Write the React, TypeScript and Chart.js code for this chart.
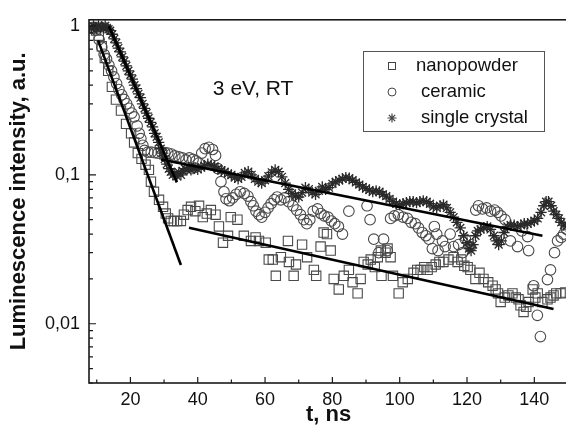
import React, { useEffect, useRef } from 'react';
import { Chart, registerables } from 'chart.js';

Chart.register(...registerables);

const FONT = '"Liberation Sans", Arial, Helvetica, sans-serif';

// ---- data ----
const seriesNames = ['nanopowder', 'ceramic', 'single crystal'];

const nanoT = [9.0, 9.8, 10.6, 11.5, 12.4, 13.4, 14.5, 15.7, 17.2, 18.7, 20.2, 21.1, 22.2, 23.3, 24.5, 25.5, 26.1, 27.0, 28.5, 29.7, 30.5, 31.2, 32.0, 32.9, 33.9, 35.0, 35.9, 37.0, 38.0, 39.3, 40.4, 41.5, 42.7, 43.9, 45.3, 46.3, 47.5, 49.0, 49.8, 51.8, 53.7, 55.8, 57.2, 58.2, 60.2, 61.1, 62.3, 63.2, 64.7, 66.8, 67.1, 68.5, 69.2, 71.0, 72.5, 74.5, 75.2, 76.5, 77.4, 78.4, 79.5, 80.4, 81.9, 83.4, 84.9, 86.0, 87.5, 88.4, 89.3, 90.5, 91.4, 92.6, 93.5, 94.4, 94.6, 95.8, 96.4, 97.3, 98.0, 99.7, 100.9, 102.4, 104.1, 105.2, 106.2, 107.3, 108.3, 109.5, 110.7, 111.8, 113.0, 114.5, 116.0, 117.2, 118.3, 119.2, 120.2, 121.0, 122.5, 123.7, 124.9, 126.3, 127.6, 128.5, 129.2, 130.0, 131.2, 132.3, 133.5, 134.5, 135.3, 135.9, 136.8, 137.6, 138.3, 139.5, 140.3, 141.0, 142.4, 143.9, 144.8, 145.7, 146.5, 147.8, 149.2];
const nanoV = [0.96, 0.93, 0.86, 0.73, 0.61, 0.5, 0.39, 0.32, 0.27, 0.22, 0.19, 0.165, 0.14, 0.128, 0.117, 0.108, 0.09, 0.077, 0.068, 0.061, 0.055, 0.051, 0.049, 0.049, 0.049, 0.049, 0.054, 0.058, 0.061, 0.057, 0.062, 0.052, 0.055, 0.058, 0.054, 0.045, 0.035, 0.039, 0.052, 0.05, 0.039, 0.036, 0.038, 0.036, 0.035, 0.027, 0.027, 0.021, 0.028, 0.036, 0.026, 0.021, 0.025, 0.034, 0.028, 0.023, 0.021, 0.033, 0.041, 0.04, 0.031, 0.02, 0.017, 0.021, 0.023, 0.019, 0.016, 0.02, 0.026, 0.025, 0.027, 0.024, 0.028, 0.031, 0.021, 0.03, 0.032, 0.028, 0.021, 0.016, 0.019, 0.02, 0.022, 0.023, 0.023, 0.024, 0.023, 0.024, 0.025, 0.026, 0.026, 0.027, 0.028, 0.026, 0.027, 0.0245, 0.024, 0.023, 0.02, 0.022, 0.02, 0.019, 0.018, 0.017, 0.016, 0.014, 0.015, 0.0155, 0.016, 0.015, 0.0146, 0.0133, 0.012, 0.013, 0.014, 0.017, 0.015, 0.016, 0.014, 0.0146, 0.015, 0.0155, 0.016, 0.016, 0.0162];

const ceramicT = [9.0, 9.8, 10.7, 11.5, 12.2, 12.9, 13.6, 14.4, 15.1, 15.9, 16.6, 17.4, 18.1, 18.9, 19.6, 20.4, 21.1, 22.0, 22.6, 23.1, 23.7, 24.2, 25.2, 26.2, 27.2, 28.2, 29.2, 30.2, 31.1, 32.2, 33.2, 34.4, 35.4, 36.5, 37.5, 38.6, 39.5, 40.3, 41.2, 42.2, 43.3, 44.4, 45.3, 46.0, 46.9, 47.8, 48.4, 49.4, 50.4, 51.4, 52.6, 53.8, 54.9, 55.8, 56.5, 57.3, 58.2, 59.0, 60.0, 60.9, 61.8, 62.7, 63.6, 64.7, 65.8, 67.0, 68.3, 69.4, 70.5, 71.5, 72.4, 73.3, 74.3, 75.6, 76.6, 77.6, 78.7, 79.7, 80.7, 81.8, 83.0, 84.9, 90.3, 91.2, 92.3, 93.8, 95.2, 96.3, 97.3, 98.4, 99.6, 101.0, 102.3, 103.4, 104.6, 105.6, 106.7, 107.8, 108.7, 109.7, 110.3, 111.0, 111.4, 112.7, 113.5, 115.0, 116.0, 117.5, 118.7, 119.5, 121.0, 122.6, 123.4, 124.6, 125.8, 127.0, 128.2, 129.1, 130.1, 131.3, 132.9, 135.0, 136.3, 138.0, 138.3, 139.8, 140.9, 141.8, 143.9, 144.8, 146.0, 146.9, 148.0, 148.7, 149.6];
const ceramicV = [0.97, 0.94, 0.81, 0.72, 0.645, 0.6, 0.546, 0.5, 0.455, 0.41, 0.374, 0.345, 0.321, 0.3, 0.28, 0.26, 0.245, 0.213, 0.19, 0.175, 0.158, 0.146, 0.142, 0.142, 0.141, 0.14, 0.142, 0.141, 0.14, 0.138, 0.134, 0.132, 0.13, 0.126, 0.13, 0.127, 0.124, 0.12, 0.14, 0.15, 0.153, 0.148, 0.135, 0.11, 0.09, 0.077, 0.069, 0.067, 0.07, 0.074, 0.077, 0.075, 0.072, 0.066, 0.062, 0.057, 0.054, 0.052, 0.056, 0.06, 0.064, 0.068, 0.071, 0.068, 0.07, 0.066, 0.062, 0.058, 0.054, 0.05, 0.047, 0.05, 0.057, 0.059, 0.055, 0.053, 0.052, 0.049, 0.047, 0.045, 0.04, 0.057, 0.062, 0.05, 0.037, 0.03, 0.037, 0.031, 0.051, 0.053, 0.054, 0.052, 0.051, 0.048, 0.047, 0.044, 0.041, 0.039, 0.037, 0.032, 0.045, 0.04, 0.031, 0.036, 0.033, 0.04, 0.033, 0.034, 0.03, 0.037, 0.033, 0.058, 0.062, 0.059, 0.06, 0.057, 0.058, 0.056, 0.053, 0.05, 0.036, 0.033, 0.042, 0.0385, 0.031, 0.018, 0.0114, 0.0082, 0.0198, 0.023, 0.03, 0.036, 0.038, 0.04, 0.043];

const crystalT = [8.5, 9.0, 9.5, 10.0, 10.5, 11.0, 11.5, 12.0, 12.5, 13.0, 13.5, 14.0, 14.6, 15.2, 15.8, 16.4, 17.0, 17.6, 18.2, 18.8, 19.4, 20.0, 20.6, 21.2, 21.8, 22.4, 23.0, 23.6, 24.2, 24.8, 25.4, 26.0, 26.6, 27.2, 27.8, 28.4, 29.0, 29.6, 30.2, 30.8, 31.4, 32.0, 32.6, 33.2, 33.8, 34.4, 35.0, 35.6, 36.2, 36.8, 37.4, 38.0, 38.6, 39.2, 40.0, 41.0, 42.0, 43.0, 44.0, 45.0, 46.0, 47.0, 48.0, 49.0, 50.0, 51.0, 52.0, 53.0, 54.0, 55.0, 56.0, 57.0, 58.0, 59.0, 60.0, 61.0, 62.0, 63.0, 64.0, 65.0, 66.0, 67.0, 68.0, 69.0, 70.0, 71.0, 72.0, 73.0, 74.0, 75.0, 76.0, 77.0, 78.0, 79.0, 80.0, 81.0, 82.0, 83.0, 84.0, 85.0, 86.0, 87.0, 88.0, 89.0, 90.0, 91.0, 92.0, 93.0, 94.0, 95.0, 96.0, 97.0, 98.0, 99.0, 100.0, 101.0, 102.0, 103.0, 104.0, 105.0, 106.0, 107.0, 108.0, 109.0, 110.0, 111.0, 112.0, 113.0, 114.0, 115.0, 116.0, 117.0, 118.0, 119.0, 120.0, 120.6, 121.2, 121.8, 122.5, 123.2, 124.0, 125.0, 126.0, 127.0, 128.0, 128.7, 129.4, 130.2, 131.0, 132.0, 133.0, 134.0, 135.0, 136.0, 137.0, 138.0, 139.0, 140.0, 141.0, 142.0, 142.8, 143.5, 144.2, 145.0, 145.7, 146.5, 147.3, 148.0, 148.8, 149.5];
const crystalV = [0.97, 1.0, 0.98, 0.96, 1.0, 0.98, 0.99, 0.97, 1.0, 0.97, 0.95, 0.93, 0.88, 0.82, 0.77, 0.71, 0.67, 0.62, 0.58, 0.54, 0.5, 0.47, 0.44, 0.4, 0.38, 0.35, 0.33, 0.3, 0.28, 0.26, 0.24, 0.225, 0.21, 0.19, 0.18, 0.165, 0.15, 0.14, 0.128, 0.118, 0.11, 0.105, 0.1, 0.102, 0.098, 0.104, 0.1, 0.106, 0.11, 0.108, 0.112, 0.108, 0.11, 0.112, 0.109, 0.112, 0.115, 0.118, 0.116, 0.114, 0.11, 0.107, 0.105, 0.102, 0.1, 0.096, 0.094, 0.097, 0.103, 0.105, 0.1, 0.094, 0.09, 0.088, 0.092, 0.098, 0.104, 0.108, 0.105, 0.097, 0.088, 0.08, 0.075, 0.072, 0.071, 0.076, 0.082, 0.08, 0.076, 0.074, 0.078, 0.083, 0.08, 0.082, 0.087, 0.09, 0.092, 0.094, 0.096, 0.095, 0.092, 0.089, 0.086, 0.083, 0.081, 0.079, 0.077, 0.078, 0.077, 0.074, 0.072, 0.069, 0.066, 0.064, 0.063, 0.064, 0.065, 0.066, 0.066, 0.065, 0.066, 0.067, 0.066, 0.064, 0.061, 0.06, 0.062, 0.063, 0.06, 0.056, 0.052, 0.048, 0.044, 0.039, 0.035, 0.032, 0.031, 0.034, 0.039, 0.042, 0.043, 0.044, 0.045, 0.043, 0.039, 0.036, 0.034, 0.036, 0.041, 0.045, 0.046, 0.046, 0.045, 0.046, 0.047, 0.047, 0.048, 0.049, 0.051, 0.056, 0.062, 0.066, 0.066, 0.062, 0.057, 0.054, 0.051, 0.048, 0.046, 0.045];

// fitted exponential lines (two end points each)
const fitCrystalFastT = [13.6, 33.8];
const fitCrystalFastV = [1.0, 0.089];
const fitNanoFastT = [10.4, 35.0];
const fitNanoFastV = [0.8, 0.0248];
const fitCrystalSlowT = [29.1, 142.4];
const fitCrystalSlowV = [0.127, 0.039];
const fitNanoSlowT = [37.4, 145.7];
const fitNanoSlowV = [0.0441, 0.01256];

const xTickValues = [20, 40, 60, 80, 100, 120, 140];
const yTickValues = [0.01, 0.1, 1];
const yTickLabels = ['0,01', '0,1', '1'];

const annotationText = '3 eV, RT';
const annotationT = 44.5;
const annotationV = 0.346;

const pts = (ts: number[], vs: number[]) => ts.map((t, i) => ({ x: t, y: vs[i] }));

function drawStar(ctx: CanvasRenderingContext2D, x: number, y: number, r: number) {
  ctx.beginPath();
  for (let k = 0; k < 4; k++) {
    const a = (k * Math.PI) / 4;
    ctx.moveTo(x - r * Math.cos(a), y - r * Math.sin(a));
    ctx.lineTo(x + r * Math.cos(a), y + r * Math.sin(a));
  }
  ctx.stroke();
}

const framePlugin = {
  id: 'frame',
  afterDraw(chart: any) {
    const { ctx, chartArea, scales } = chart;
    const { left, right, top, bottom } = chartArea;
    const xs = scales.x;
    const ys = scales.y;
    ctx.save();
    ctx.strokeStyle = '#1a1a1a';
    ctx.lineWidth = 1.6;
    ctx.strokeRect(left, top, right - left, bottom - top);

    ctx.lineWidth = 1.2;
    ctx.beginPath();
    for (let v = 10; v <= 150; v += 10) {
      const px = xs.getPixelForValue(v);
      const len = v % 20 === 0 ? 6 : 3.5;
      ctx.moveTo(px, bottom);
      ctx.lineTo(px, bottom - len);
    }
    for (const dec of [0.001, 0.01, 0.1, 1]) {
      for (let m = 1; m <= 9; m++) {
        const v = dec * m;
        if (v < ys.min || v > ys.max) continue;
        const py = ys.getPixelForValue(v);
        const len = m === 1 ? 7 : 4;
        ctx.moveTo(left, py);
        ctx.lineTo(left + len, py);
      }
    }
    ctx.stroke();

    // annotation
    ctx.fillStyle = '#111';
    ctx.font = '21px ' + FONT;
    ctx.textAlign = 'left';
    ctx.textBaseline = 'alphabetic';
    ctx.fillText(annotationText, xs.getPixelForValue(annotationT), ys.getPixelForValue(annotationV));

    // legend box
    const bx = 363, by = 51, bw = 181, bh = 80;
    ctx.strokeStyle = '#555';
    ctx.lineWidth = 1;
    ctx.strokeRect(bx + 0.5, by + 0.5, bw, bh);
    ctx.strokeStyle = '#444';
    ctx.lineWidth = 1;
    const sx = 392;
    ctx.strokeRect(sx - 3.5, 66 - 3.5, 7, 7);
    ctx.beginPath();
    ctx.arc(sx, 92, 4, 0, Math.PI * 2);
    ctx.stroke();
    ctx.lineWidth = 1.2;
    drawStar(ctx, sx, 118, 4.5);
    ctx.font = '18.5px ' + FONT;
    ctx.fillStyle = '#111';
    ctx.fillText(seriesNames[0], 416, 71);
    ctx.fillText(seriesNames[1], 421, 97);
    ctx.fillText(seriesNames[2], 421, 123);
    ctx.restore();
  },
};

export default function App() {
  const ref = useRef<HTMLCanvasElement | null>(null);
  useEffect(() => {
    if (!ref.current) return;
    const scatterBase = {
      showLine: false,
      backgroundColor: 'rgba(0,0,0,0)',
      borderWidth: 1,
      pointBorderWidth: 1.1,
      pointBackgroundColor: 'rgba(0,0,0,0)',
    };
    const lineBase = {
      showLine: true,
      borderColor: '#000',
      borderWidth: 2.6,
      pointRadius: 0,
      fill: false,
      order: 0,
    };
    const chart = new Chart(ref.current, {
      type: 'scatter',
      data: {
        datasets: [
          { ...lineBase, label: 'fit1', data: pts(fitCrystalFastT, fitCrystalFastV) },
          { ...lineBase, label: 'fit2', data: pts(fitNanoFastT, fitNanoFastV) },
          { ...lineBase, label: 'fit3', data: pts(fitCrystalSlowT, fitCrystalSlowV) },
          { ...lineBase, label: 'fit4', data: pts(fitNanoSlowT, fitNanoSlowV) },
          {
            ...scatterBase,
            label: seriesNames[0],
            data: pts(nanoT, nanoV),
            pointStyle: 'rect',
            pointRadius: 6.6,
            pointBorderColor: '#4a4a4a',
            borderColor: '#4a4a4a',
            order: 3,
          },
          {
            ...scatterBase,
            label: seriesNames[1],
            data: pts(ceramicT, ceramicV),
            pointStyle: 'circle',
            pointRadius: 5.3,
            pointBorderColor: '#4a4a4a',
            borderColor: '#4a4a4a',
            order: 2,
          },
          {
            ...scatterBase,
            label: seriesNames[2],
            data: pts(crystalT, crystalV),
            pointStyle: 'star',
            pointRadius: 5.6,
            pointBorderWidth: 1.3,
            pointBorderColor: '#2a2a2a',
            borderColor: '#2a2a2a',
            order: 1,
          },
        ],
      } as any,
      options: {
        animation: false,
        responsive: false,
        maintainAspectRatio: false,
        devicePixelRatio: 1,
        layout: { padding: { left: 0, right: 8, top: 12, bottom: 0 }, autoPadding: false },
        plugins: { legend: { display: false }, tooltip: { enabled: false } },
        scales: {
          x: {
            type: 'linear',
            min: 7.7,
            max: 150,
            grid: { display: false, drawTicks: false },
            border: { display: false },
            afterFit: (s: any) => { s.height = 50; },
            afterBuildTicks: (s: any) => { s.ticks = xTickValues.map((v) => ({ value: v })); },
            ticks: {
              padding: 6,
              color: '#111',
              font: { family: FONT, size: 18 },
              maxRotation: 0,
              autoSkip: false,
            },
            title: {
              display: true,
              text: 't, ns',
              color: '#111',
              font: { family: FONT, size: 22, weight: 'bold' },
              padding: { top: 0, bottom: 5 },
            },
          },
          y: {
            type: 'logarithmic',
            min: 0.004,
            max: 1.1,
            grid: { display: false, drawTicks: false },
            border: { display: false },
            afterFit: (s: any) => { s.width = 89; },
            afterBuildTicks: (s: any) => { s.ticks = yTickValues.map((v) => ({ value: v })); },
            ticks: {
              padding: 9,
              color: '#111',
              font: { family: FONT, size: 18 },
              autoSkip: false,
              callback: (v: any) => {
                const i = yTickValues.indexOf(Number(v));
                return i >= 0 ? yTickLabels[i] : '';
              },
            },
            title: {
              display: true,
              text: 'Luminescence intensity, a.u.',
              color: '#111',
              font: { family: FONT, size: 22, weight: 'bold' },
              padding: { top: 6, bottom: 0 },
            },
          },
        },
      } as any,
      plugins: [framePlugin],
    });
    return () => chart.destroy();
  }, []);
  return (
    <div style={{ position: 'fixed', left: 0, top: 0, width: 566, height: 433, overflow: 'hidden', background: '#fff' }}>
      <canvas ref={ref} width={576} height={433} style={{ width: 576, height: 433, display: 'block' }} />
    </div>
  );
}
